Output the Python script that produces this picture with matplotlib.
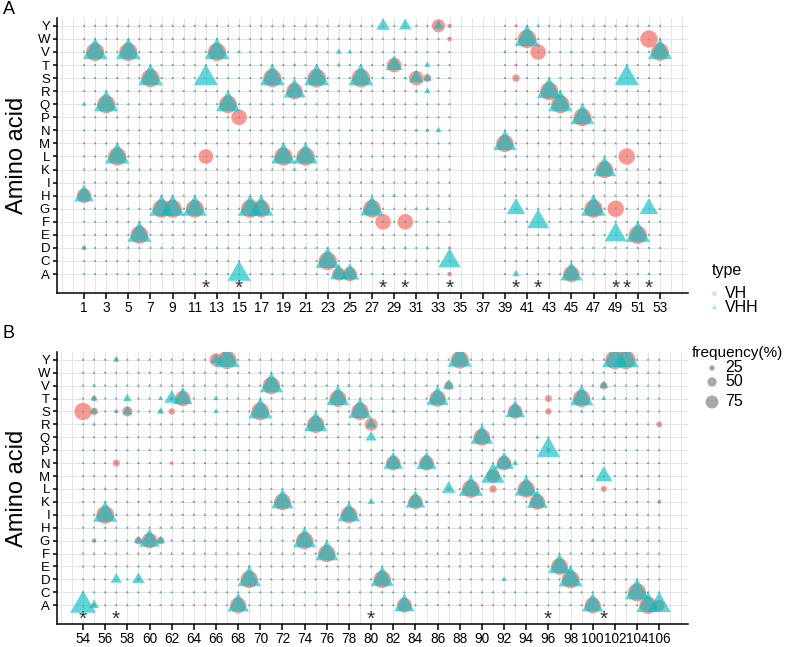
import matplotlib
matplotlib.use("Agg")
import matplotlib.pyplot as plt
from matplotlib.path import Path
import numpy as np

plt.rcParams['font.family'] = ['Liberation Sans', 'DejaVu Sans']
plt.rcParams['mathtext.fontset'] = 'custom'
plt.rcParams['mathtext.rm'] = 'Liberation Sans'
plt.rcParams['mathtext.it'] = 'Liberation Sans'
plt.rcParams['mathtext.bf'] = 'Liberation Sans'

amino_acids = ['A', 'C', 'D', 'E', 'F', 'G', 'H', 'I', 'K', 'L',
               'M', 'N', 'P', 'Q', 'R', 'S', 'T', 'V', 'W', 'Y']

# ---------------- Panel A data ----------------
a_positions = list(range(1, 35)) + list(range(39, 54))
a_pos = [1, 1, 1, 2, 3, 4, 5, 6, 7, 8, 9, 11, 12, 12, 13, 14, 15, 15, 15, 16, 17, 18, 19,
         20, 20, 20, 21, 22, 23, 24, 24, 24, 25, 25, 26, 27, 28, 28, 28, 28, 29, 29,
         30, 30, 30, 30, 31, 31, 31, 31, 32, 32, 32, 32, 32, 32, 33, 33,
         34, 34, 34, 34, 34, 39, 39, 39, 40, 40, 40, 40, 40, 41, 42, 42, 42,
         43, 44, 45, 45, 46, 47, 48, 48, 49, 49, 50, 50, 51, 52, 52, 52, 53, 53]
a_aa = ['H', 'Q', 'D', 'V', 'Q', 'L', 'V', 'E', 'S', 'G', 'G', 'G', 'S', 'L', 'V', 'Q', 'V', 'P', 'A', 'G', 'G', 'S', 'L',
        'T', 'R', 'K', 'L', 'S', 'C', 'V', 'T', 'A', 'V', 'A', 'S', 'G', 'Y', 'S', 'F', 'D', 'T', 'H',
        'Y', 'S', 'F', 'D', 'S', 'R', 'N', 'G', 'T', 'S', 'R', 'N', 'G', 'D', 'Y', 'N',
        'Y', 'W', 'D', 'C', 'A', 'V', 'M', 'L', 'Y', 'T', 'S', 'G', 'A', 'W', 'Y', 'V', 'F',
        'R', 'Q', 'V', 'A', 'P', 'G', 'K', 'N', 'G', 'E', 'S', 'L', 'E', 'W', 'G', 'A', 'V', 'I']
a_vh = [70, 0, 12, 90, 90, 90, 90, 88, 90, 90, 90, 88, 0, 70, 90, 88, 0, 75, 0, 90, 85, 90, 90,
        0, 80, 0, 90, 92, 90, 0, 0, 62, 0, 68, 92, 88, 0, 0, 75, 0, 70, 0,
        0, 0, 75, 0, 70, 0, 0, 0, 0, 32, 0, 8, 0, 0, 62, 0,
        14, 14, 6, 0, 14, 0, 85, 0, 6, 6, 30, 0, 0, 92, 0, 75, 0,
        90, 90, 0, 80, 88, 90, 85, 0, 80, 0, 0, 80, 90, 85, 0, 0, 88, 0]
a_vhh = [70, 10, 12, 90, 90, 90, 90, 88, 90, 90, 90, 88, 88, 0, 90, 88, 6, 3, 85, 90, 88, 90, 90,
         6, 80, 6, 90, 92, 90, 15, 8, 62, 10, 68, 92, 85, 45, 4, 3, 5, 60, 6,
         40, 4, 3, 5, 50, 5, 5, 5, 15, 25, 15, 5, 5, 5, 30, 15,
         0, 0, 0, 80, 0, 4, 85, 5, 0, 0, 0, 65, 20, 92, 5, 0, 80,
         90, 90, 5, 80, 88, 90, 85, 4, 0, 80, 88, 0, 90, 0, 65, 4, 88, 5]
a_stars = [12, 15, 28, 30, 34, 40, 42, 49, 50, 52]

# ---------------- Panel B data ----------------
b_positions = list(range(54, 107))
b_pos = [54, 54, 55, 55, 55, 55, 55, 55, 56, 56, 57, 57, 57, 57, 58, 58, 59, 59, 60,
         61, 61, 61, 62, 62, 62, 63, 66, 66, 66, 67, 68, 69, 69, 70, 71, 72, 74, 75, 76, 77,
         78, 78, 79, 80, 80, 80, 81, 82, 82, 83, 84, 84, 85, 85, 86, 87, 87, 88, 89, 90,
         91, 91, 92, 92, 93, 93, 94, 95, 95, 96, 96, 96, 97, 98, 99, 99, 99, 100, 100,
         101, 101, 101, 101, 102, 103, 104, 105, 106, 106, 106]
b_aa = ['S', 'A', 'V', 'T', 'S', 'R', 'G', 'A', 'L', 'I', 'Y', 'S', 'N', 'D', 'T', 'S', 'G', 'D', 'G',
        'T', 'S', 'G', 'T', 'S', 'N', 'T', 'Y', 'T', 'S', 'Y', 'A', 'E', 'D', 'S', 'V', 'K', 'G', 'R', 'F', 'T',
        'V', 'I', 'S', 'R', 'Q', 'K', 'D', 'S', 'N', 'A', 'K', 'N', 'N', 'K', 'T', 'V', 'L', 'Y', 'L', 'Q',
        'M', 'L', 'N', 'D', 'S', 'N', 'L', 'Q', 'K', 'T', 'S', 'P', 'E', 'D', 'T', 'S', 'M', 'G', 'A',
        'V', 'T', 'M', 'L', 'Y', 'Y', 'C', 'A', 'R', 'K', 'A']
b_vh = [85, 0, 0, 18, 30, 0, 12, 10, 0, 88, 12, 10, 28, 0, 0, 45, 30, 8, 75,
        0, 10, 30, 10, 25, 10, 75, 60, 0, 0, 92, 78, 0, 85, 88, 85, 82, 85, 85, 85, 82,
        0, 82, 85, 60, 0, 0, 85, 0, 70, 72, 70, 0, 72, 0, 80, 38, 10, 88, 88, 82,
        65, 30, 70, 0, 70, 0, 85, 0, 75, 28, 25, 15, 82, 88, 85, 0, 6, 0, 78,
        30, 0, 0, 22, 95, 95, 90, 85, 22, 12, 50]
b_vhh = [0, 95, 5, 18, 20, 5, 10, 30, 5, 88, 15, 8, 0, 35, 25, 30, 25, 40, 75,
         10, 20, 25, 50, 0, 0, 70, 35, 12, 12, 92, 78, 5, 85, 88, 85, 82, 85, 85, 85, 82,
         5, 82, 85, 35, 35, 18, 85, 5, 70, 72, 70, 5, 72, 5, 80, 35, 45, 88, 88, 82,
         85, 0, 70, 12, 70, 15, 85, 6, 75, 0, 0, 85, 82, 88, 85, 5, 0, 8, 78,
         25, 10, 60, 0, 95, 95, 90, 85, 0, 0, 85]
b_stars = [54, 57, 80, 96, 101]

VH_COLOR = '#F8766D'
VHH_COLOR = '#00BFC4'

# equilateral triangle marker (centroid-centred, like R's pch 17)
TRI = Path([(0, 1), (0.866, -0.5), (-0.866, -0.5), (0, 1)],
           [Path.MOVETO, Path.LINETO, Path.LINETO, Path.CLOSEPOLY])


def diam_px(f):
    return 2.0 + 0.18 * np.asarray(f, dtype=float)


def s_circle(f):
    return (0.72 * diam_px(f)) ** 2


def s_tri(f):
    return (0.72 * 1.555 * diam_px(f)) ** 2


def grid_values(positions, pos, aa, vh, vhh):
    xs, ys, fvh, fvhh = [], [], [], []
    lookup = {}
    for p, a, v1, v2 in zip(pos, aa, vh, vhh):
        lookup[(p, a)] = (v1, v2)
    for p in positions:
        for i, a in enumerate(amino_acids):
            v1, v2 = lookup.get((p, a), (0, 0))
            xs.append(p)
            ys.append(i + 1)
            fvh.append(v1)
            fvhh.append(v2)
    return np.array(xs), np.array(ys), np.array(fvh), np.array(fvhh)


fig = plt.figure(figsize=(7.86, 6.47), dpi=100)
W, H = 786, 647


def make_panel(rect_px, positions, pos, aa, vh, vhh, stars, xlim, ticks):
    x0, y0, x1, y1 = rect_px
    ax = fig.add_axes([x0 / W, 1 - y1 / H, (x1 - x0) / W, (y1 - y0) / H])
    ax.set_xlim(*xlim)
    ax.set_ylim(-0.45, 20.6)
    # grid
    for gx in range(int(np.ceil(xlim[0])), int(np.floor(xlim[1])) + 1):
        ax.axvline(gx, color='#E4E4E4', lw=0.7, zorder=0)
    for gy in range(1, 21):
        ax.axhline(gy, color='#E4E4E4', lw=0.7, zorder=0)
    xs, ys, fvh, fvhh = grid_values(positions, pos, aa, vh, vhh)
    ax.scatter(xs, ys, s=s_circle(fvh), c=VH_COLOR, alpha=0.75, marker='o',
               linewidths=0, zorder=2)
    ax.scatter(xs, ys, s=s_tri(fvhh), c=VHH_COLOR, alpha=0.64, marker=TRI,
               linewidths=0, zorder=3)
    for sx in stars:
        ax.text(sx, 0.0, '$*$', ha='center', va='center', fontsize=15,
                color='#333333', zorder=4)
    ax.set_xticks(ticks)
    ax.set_xticklabels([str(t) for t in ticks], fontsize=9.8)
    ax.set_yticks(range(1, 21))
    ax.set_yticklabels(amino_acids, fontsize=9.5)
    for side in ['top', 'right']:
        ax.spines[side].set_visible(False)
    for side in ['left', 'bottom']:
        ax.spines[side].set_linewidth(1.1)
        ax.spines[side].set_color('black')
    ax.tick_params(axis='x', length=4, width=1.1, pad=2, colors='black')
    ax.tick_params(axis='y', length=3, width=1.1, pad=2, colors='black')
    ax.set_facecolor('white')
    return ax


axA = make_panel((57, 18, 688, 293), a_positions, a_pos, a_aa, a_vh, a_vhh, a_stars,
                 (-1.44, 55.53), list(range(1, 54, 2)))
axB = make_panel((57, 352, 688, 624), b_positions, b_pos, b_aa, b_vh, b_vhh, b_stars,
                 (51.65, 108.6), list(range(54, 107, 2)))

fig.text(8.5 / W, 1 - 9 / H, 'A', fontsize=13, ha='center', va='center')
fig.text(8.5 / W, 1 - 333 / H, 'B', fontsize=13, ha='center', va='center')
fig.text(17 / W, 1 - 155 / H, 'Amino acid', fontsize=17, rotation=90, ha='center', va='center')
fig.text(17 / W, 1 - 488 / H, 'Amino acid', fontsize=17, rotation=90, ha='center', va='center')

# legends drawn in a pixel-coordinate overlay
leg = fig.add_axes([0, 0, 1, 1])
leg.set_xlim(0, W)
leg.set_ylim(H, 0)
leg.axis('off')
leg.patch.set_alpha(0)

leg.text(712, 270, 'type', fontsize=11.5, ha='left', va='center')
type_labels = ['VH', 'VHH']
leg.scatter([714], [293], s=s_circle(15), c=VH_COLOR, alpha=0.35, marker='o', linewidths=0)
leg.scatter([714], [307], s=s_tri(10), c=VHH_COLOR, alpha=0.35, marker=TRI, linewidths=0)
leg.text(725, 293, type_labels[0], fontsize=11.5, ha='left', va='center')
leg.text(725, 307, type_labels[1], fontsize=11.5, ha='left', va='center')

leg.text(692, 353, 'frequency(%)', fontsize=11, ha='left', va='center')
freq_breaks = [25, 50, 75]
freq_y = [368, 382, 402]
leg.scatter([712] * 3, freq_y, s=s_circle(freq_breaks) * 0.7, c='#A8A8A8', marker='o', linewidths=0)
for fb, fy in zip(freq_breaks, freq_y):
    leg.text(725, fy, str(fb), fontsize=11.5, ha='left', va='center')

fig.savefig('out.png', dpi=100)
